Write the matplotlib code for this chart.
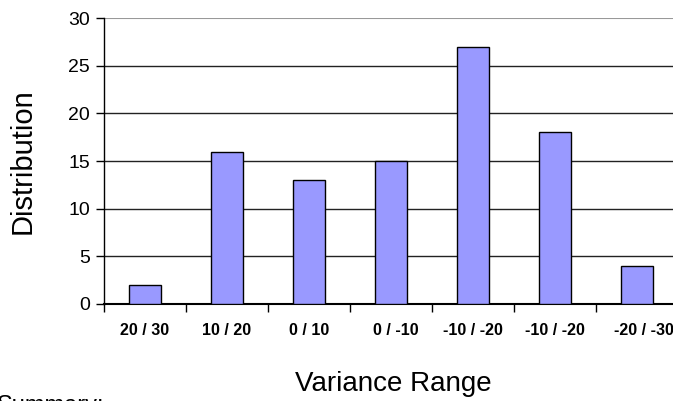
import numpy as np
import matplotlib

matplotlib.use("Agg")
import matplotlib.pyplot as plt
from matplotlib.transforms import ScaledTranslation

plt.rcParams["font.family"] = ["Liberation Sans", "DejaVu Sans"]

# Distribuzione per fascia di varianza
categories = ["20 / 30", "10 / 20", "0 / 10", "0 / -10", "-10 / -20", "-10 / -20", "-20 / -30"]
counts = [2, 16, 13, 15, 27, 18, 4]
y_ticks = [0, 5, 10, 15, 20, 25, 30]

fig = plt.figure(figsize=(6.73, 4.01), dpi=100)
# l'asse prosegue oltre il bordo destro della figura
ax = fig.add_axes([0.1545, 0.2419, 0.853, 0.713])

x = np.arange(len(categories))
ax.bar(x, counts, width=0.39, color="#9999FF", edgecolor="black", linewidth=1.0, zorder=3)

ax.set_xlim(-0.5, len(categories) - 0.5)
ax.set_ylim(0, 30)
ax.set_yticks(y_ticks)
ax.set_yticklabels([str(v) for v in y_ticks], fontsize=14)

# griglia orizzontale scura, riga superiore grigia
for v in y_ticks[1:-1]:
    ax.axhline(v, color="#222222", linewidth=1.0, zorder=1)
ax.axhline(30, color="#999999", linewidth=1.5, zorder=1)

# tick sui confini delle categorie, etichette al centro
ax.set_xticks(np.arange(len(categories) + 1) - 0.5)
ax.set_xticklabels([])
ax.set_xticks(x, minor=True)
ax.set_xticklabels(categories, minor=True, fontsize=11.5, fontweight="bold")
ax.tick_params(axis="x", which="minor", length=0, pad=14)
ax.tick_params(axis="x", which="major", length=6, width=1, direction="out")
ax.tick_params(axis="y", length=6, width=1, direction="out", pad=4)

# piccolo spostamento a destra di alcune etichette
minor_labels = ax.get_xticklabels(minor=True)
for i, dx in [(3, 5), (6, 7)]:
    lab = minor_labels[i]
    lab.set_transform(lab.get_transform() + ScaledTranslation(dx / 100, 0, fig.dpi_scale_trans))

for side in ["top", "right"]:
    ax.spines[side].set_visible(False)
ax.spines["left"].set_linewidth(1.0)
ax.spines["bottom"].set_linewidth(1.5)

ax.set_ylabel("Distribution", fontsize=21, labelpad=23)
fig.text(0.584, 0.043, "Variance Range", fontsize=20, ha="center", va="center")
fig.text(-0.004, 0.016, "Summary:", fontsize=17, ha="left", va="top")

fig.savefig("out.png", dpi=100)
